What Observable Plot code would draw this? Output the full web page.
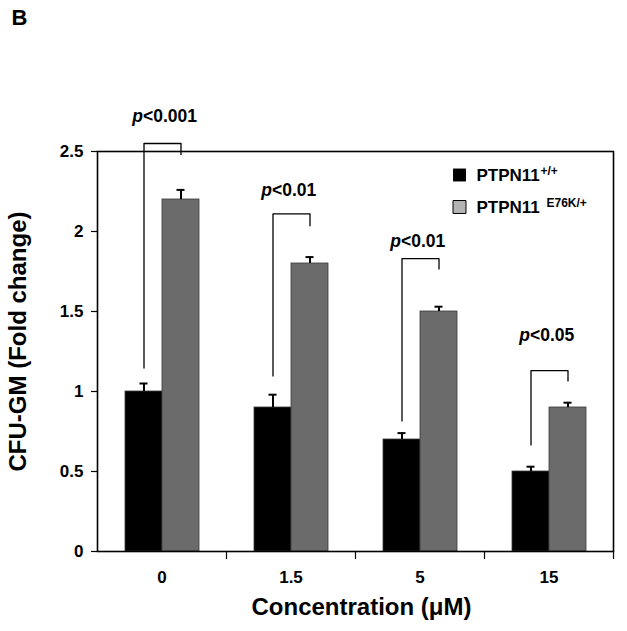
<!DOCTYPE html>
<html><head><meta charset="utf-8">
<script src="https://cdn.jsdelivr.net/npm/d3@7"></script>
<script src="https://cdn.jsdelivr.net/npm/@observablehq/plot@0.6"></script>
<style>
body{margin:0;background:#fff;}
</style></head><body><div id="chart"></div>
<script>
// ---- data ----
const concentrations = ["0", "1.5", "5", "15"];
const genotypes = ["PTPN11+/+", "PTPN11E76K/+"];
const wildType = [1.0, 0.9, 0.7, 0.5];
const wildTypeErr = [0.05, 0.08, 0.04, 0.03];
const mutant = [2.2, 1.8, 1.5, 0.9];
const mutantErr = [0.06, 0.04, 0.03, 0.03];
const pValues = ["<0.001", "<0.01", "<0.01", "<0.05"];
const pLabelY = [2.72, 2.26, 1.94, 1.35];
const bracketTop = [2.55, 2.11, 1.83, 1.13];
const bracketLeftEnd = [1.14, 1.09, 0.81, 0.66];
const bracketRightEnd = [2.475, 2.03, 1.76, 1.06];
const yTicks = [0, 0.5, 1, 1.5, 2, 2.5];
const legendNames = ["PTPN11", "PTPN11"];
const legendSups = ["+/+", "E76K/+"];
const legendFills = ["#000000", "#b4b4b4"];
const barColors = ["#000000", "#6b6b6b"];

const bars = concentrations.flatMap((c, i) => [
  {conc: c, geno: genotypes[0], value: wildType[i], err: wildTypeErr[i]},
  {conc: c, geno: genotypes[1], value: mutant[i], err: mutantErr[i]}
]);
const brackets = concentrations.map((c, i) => ({
  conc: c, top: bracketTop[i], left: bracketLeftEnd[i], right: bracketRightEnd[i],
  p: pValues[i], labelY: pLabelY[i]
}));

const legendMarks = legendNames.flatMap((name, i) => [
  Plot.dot([name], {frameAnchor: "top-right", dx: -154, dy: 23.5 + 32 * i, symbol: "square", r: 7.3,
    fill: legendFills[i], stroke: "#000", strokeWidth: i ? 1 : 0, facet: "super"}),
  Plot.text([name], {frameAnchor: "top-right", dx: -137, dy: 23.6 + 32 * i, textAnchor: "start", lineAnchor: "middle",
    fontSize: 17, facet: "super"}),
  Plot.text([legendSups[i]], {frameAnchor: "top-right", dx: i ? -67 : -73, dy: 20 + 32 * i, textAnchor: "start", lineAnchor: "middle",
    fontSize: 12, facet: "super"})
]);

const chart = Plot.plot({
  width: 627, height: 631,
  marginLeft: 96, marginRight: 13, marginTop: 151, marginBottom: 80,
  style: {fontFamily: "'Liberation Sans', Arial, sans-serif", fontWeight: "bold", fontSize: "16px", color: "#000", background: "#fff"},
  fx: {domain: concentrations, padding: 0, axis: null},
  x: {domain: genotypes, paddingInner: 0, paddingOuter: 0.7, axis: null},
  y: {domain: [0, 2.5], axis: null},
  color: {domain: genotypes, range: barColors},
  marks: [
    Plot.barY(bars, {fx: "conc", x: "geno", y: "value", fill: "geno", stroke: "#3a3a3a", strokeWidth: 0.8}),
    Plot.ruleX(bars, {fx: "conc", x: "geno", y1: "value", y2: d => d.value + d.err, strokeWidth: 2}),
    Plot.tickY(bars, {fx: "conc", x: "geno", y: d => d.value + d.err, insetLeft: 14.5, insetRight: 14.5, strokeWidth: 2}),
    Plot.ruleX(brackets, {fx: "conc", x: () => genotypes[0], y1: "left", y2: "top", strokeWidth: 1.3}),
    Plot.ruleX(brackets, {fx: "conc", x: () => genotypes[1], y1: "right", y2: "top", strokeWidth: 1.3}),
    Plot.link(brackets, {fx: "conc", x1: () => genotypes[0], x2: () => genotypes[1], y1: "top", y2: "top", strokeWidth: 1.3}),
    Plot.text(brackets, {fx: "conc", y: "labelY", text: () => "p", fontStyle: "italic", textAnchor: "end", dx: -19, fontSize: 17.5}),
    Plot.text(brackets, {fx: "conc", y: "labelY", text: "p", textAnchor: "start", dx: -19, fontSize: 17.5}),
    Plot.frame({anchor: "right", insetTop: 400, insetBottom: -7, strokeWidth: 1.2}),
    Plot.frame({facet: "super", strokeWidth: 1.6}),
    Plot.axisY({ticks: yTicks, tickFormat: d => String(d), tickSize: 6, tickPadding: 8, fontSize: 17, label: null, strokeWidth: 1.2}),
    Plot.axisFx({anchor: "bottom", tickSize: 0, tickPadding: 19, fontSize: 17, label: null}),
    Plot.text(["B"], {frameAnchor: "top-left", dx: -86, dy: -134, textAnchor: "start", lineAnchor: "middle", fontSize: 22, facet: "super"}),
    Plot.text(["CFU-GM (Fold change)"], {frameAnchor: "left", dx: -79, dy: -10, rotate: -90, textAnchor: "middle", lineAnchor: "middle", fontSize: 24, facet: "super"}),
    Plot.text(["Concentration (μM)"], {frameAnchor: "bottom", dx: 6, dy: 56, textAnchor: "middle", lineAnchor: "middle", fontSize: 24, facet: "super"}),
    ...legendMarks
  ]
});
document.getElementById("chart").append(chart);
</script>
</body></html>
